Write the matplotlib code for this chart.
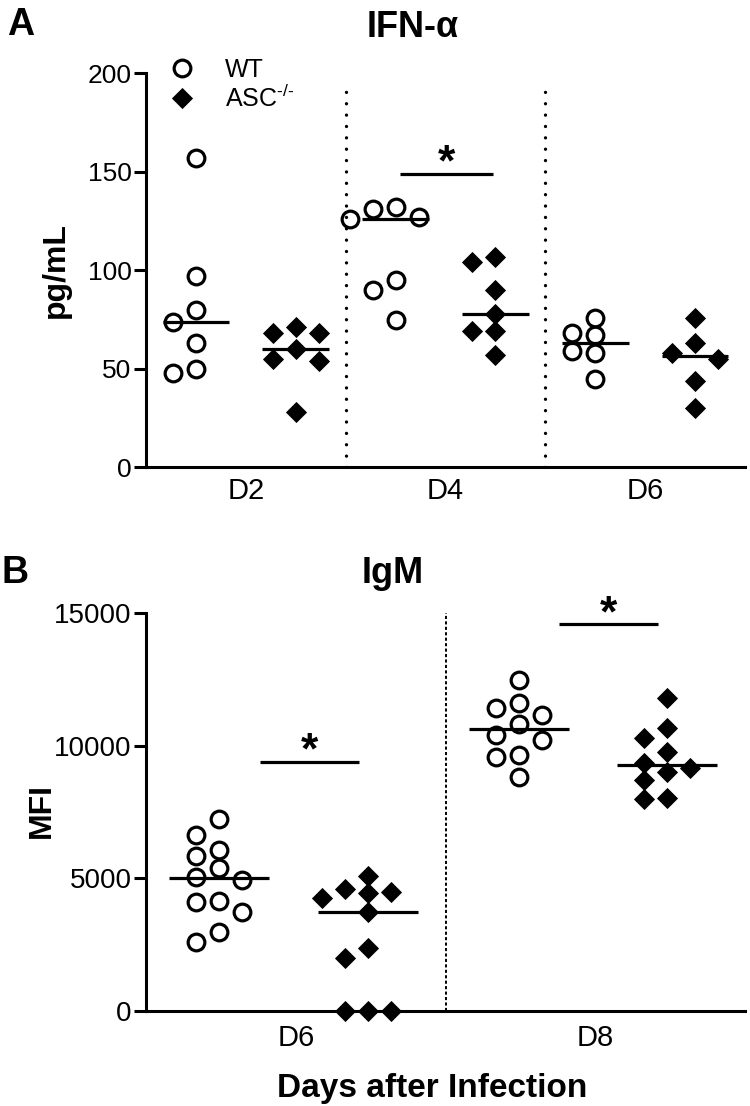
import matplotlib
matplotlib.use("Agg")
import matplotlib.pyplot as plt
from matplotlib.lines import Line2D
import numpy as np

plt.rcParams['font.family'] = ['Liberation Sans', 'DejaVu Sans']
plt.rcParams['mathtext.fontset'] = 'custom'
plt.rcParams['mathtext.rm'] = 'Liberation Sans'
plt.rcParams['mathtext.it'] = 'Liberation Sans:italic'
plt.rcParams['mathtext.bf'] = 'Liberation Sans:bold'

# panel A - IFN-alpha, pg/mL
ifn_days = ["D2", "D4", "D6"]
ifn_wt = [
    [157, 97, 80, 74, 63, 50, 48],
    [132, 131, 127, 126, 95, 90, 75],
    [76, 68, 67, 59, 58, 45],
]
ifn_asc = [
    [71, 68, 68, 60, 55, 54, 28],
    [107, 104, 90, 78, 69, 69, 57],
    [76, 63, 58, 55, 44, 30],
]
ifn_sig_days = ["D4"]
ifn_sig_levels = [149]

# panel B - IgM, MFI
igm_days = ["D6", "D8"]
igm_wt = [
    [7260, 6630, 6070, 5840, 5380, 5060, 4940, 4160, 4120, 3740, 2990, 2610],
    [12500, 11620, 11410, 11160, 10840, 10400, 10240, 9650, 9590, 8830],
]
igm_asc = [
    [5090, 4590, 4500, 4440, 4270, 3740, 2360, 1990, 0, 0, 0],
    [11810, 10680, 10300, 9770, 9370, 9150, 9020, 8710, 8050, 7980],
]
igm_sig_days = ["D6", "D8"]
igm_sig_levels = [9400, 14600]


def swarm_x(ax, vals, center, step_px=23, gap_px=17):
    # simple column scatter: put each point in the nearest free slot
    t = ax.transData
    px_x = t.transform((1, 0))[0] - t.transform((0, 0))[0]
    px_y = t.transform((0, 1))[1] - t.transform((0, 0))[1]
    placed = []
    xs = np.zeros(len(vals))
    for i in np.argsort(-np.asarray(vals), kind="stable"):
        y = vals[i] * px_y
        for k in [0, -1, 1, -2, 2, -3, 3]:
            x = k * step_px
            if all(np.hypot(x - a, y - b) >= gap_px for a, b in placed):
                break
        placed.append((x, y))
        xs[i] = center + x / px_x
    return xs


def draw_panel(ax, days, wt, asc, sig_days, sig_levels, offs, sig_span, ylim, yticks,
               sep_style, ytick_size, xpad):
    n = len(days)
    ax.set_xlim(0.5, n + 0.5)
    ax.set_ylim(*ylim)
    ax.set_yticks(yticks)
    ax.set_xticks(np.arange(1, n + 1))
    ax.set_xticklabels(days)
    for s in ["top", "right"]:
        ax.spines[s].set_visible(False)
    for s in ["left", "bottom"]:
        ax.spines[s].set_linewidth(2.2)
    ax.tick_params(axis="y", length=8.5, width=2.2, pad=2, labelsize=ytick_size)
    ax.tick_params(axis="x", length=0, pad=xpad, labelsize=21)

    for i in range(n):
        c = i + 1
        for vals, off, style in [(wt[i], offs[0], "wt"), (asc[i], offs[1], "asc")]:
            xs = swarm_x(ax, vals, c + off)
            if style == "wt":
                ax.plot(xs, vals, "o", ms=12, mfc="none", mec="black", mew=2.3,
                        ls="none", zorder=3, clip_on=False)
            else:
                ax.plot(xs, vals, "D", ms=9.8, color="black", mew=0.6,
                        ls="none", zorder=3, clip_on=False)
            med = np.median(vals)
            ax.plot([c + off - 0.167, c + off + 0.167], [med, med], color="black",
                    lw=2.3, zorder=4, solid_capstyle="butt")

    for i in range(1, n):
        ax.axvline(i + 0.5, color="black", zorder=1, **sep_style)

    for d, lev in zip(sig_days, sig_levels):
        c = days.index(d) + 1
        ax.plot([c + sig_span[0], c + sig_span[1]], [lev, lev], color="black",
                lw=2.3, solid_capstyle="butt")
        ax.annotate("*", xy=(c + (sig_span[0] + sig_span[1]) / 2, lev),
                    xytext=(0, -8), textcoords="offset points",
                    ha="center", va="bottom", fontsize=32, fontweight="bold")


fig = plt.figure(figsize=(7.5, 11.06), dpi=100)
W, H = 750.0, 1106.0

axA = fig.add_axes([146 / W, 1 - 467.3 / H, 599 / W, 394 / H])
draw_panel(axA, ifn_days, ifn_wt, ifn_asc, ifn_sig_days, ifn_sig_levels,
           offs=(-0.25, 0.25), sig_span=(-0.23, 0.24), ylim=(0, 200),
           yticks=[0, 50, 100, 150, 200],
           sep_style=dict(lw=2.4, ls=(0, (0.01, 3.4)), dash_capstyle="round", ymax=0.98),
           ytick_size=19, xpad=7)

axB = fig.add_axes([146 / W, 1 - 1011 / H, 599 / W, 397.7 / H])
draw_panel(axB, igm_days, igm_wt, igm_asc, igm_sig_days, igm_sig_levels,
           offs=(-0.255, 0.24), sig_span=(-0.12, 0.21), ylim=(0, 15000),
           yticks=[0, 5000, 10000, 15000],
           sep_style=dict(lw=1.4, ls=(0, (1.6, 1.2))),
           ytick_size=20, xpad=9)

# legend for panel A
handles = [
    Line2D([], [], marker="o", ms=12, mfc="none", mec="black", mew=2.3, ls="none"),
    Line2D([], [], marker="D", ms=9.8, color="black", mew=0.6, ls="none"),
]
axA.legend(handles, ["WT", r"ASC$^{\text{-/-}}$"], loc="upper left",
           bbox_to_anchor=(0.04, 1.04), frameon=False, fontsize=18,
           handlelength=1.0, handletextpad=1.2, labelspacing=0.12,
           borderpad=0, borderaxespad=0)

# panel letters, titles, axis labels
fig.text(7 / W, 1 - 35 / H, "A", fontsize=27, fontweight="bold", va="baseline")
fig.text(1 / W, 1 - 583 / H, "B", fontsize=27, fontweight="bold", va="baseline")
fig.text(413 / W, 1 - 37 / H, "IFN-α", fontsize=26, fontweight="bold",
         ha="center", va="baseline")
fig.text(393 / W, 1 - 583 / H, "IgM", fontsize=26, fontweight="bold",
         ha="center", va="baseline")
fig.text(64 / W, 1 - 270 / H, "pg/mL", fontsize=23, fontweight="bold",
         rotation=90, rotation_mode="anchor", ha="center", va="baseline")
fig.text(50 / W, 1 - 811 / H, "MFI", fontsize=23, fontweight="bold",
         rotation=90, rotation_mode="anchor", ha="center", va="baseline")
fig.text(432 / W, 1 - 1097 / H, "Days after Infection", fontsize=24,
         fontweight="bold", ha="center", va="baseline")

fig.savefig("out.png", dpi=100)
